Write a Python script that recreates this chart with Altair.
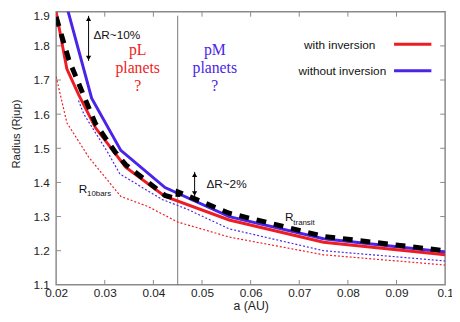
import altair as alt
import pandas as pd

# ---------------- data ----------------
x_ticks = [0.02, 0.03, 0.04, 0.05, 0.06, 0.07, 0.08, 0.09, 0.1]
y_ticks = [1.1, 1.2, 1.3, 1.4, 1.5, 1.6, 1.7, 1.8, 1.9]

with_a = [0.02, 0.0222, 0.0246, 0.0281, 0.0343, 0.0424, 0.0556, 0.075, 0.1]
with_r = [1.90, 1.733, 1.658, 1.56, 1.445, 1.359, 1.29, 1.225, 1.188]

without_a = [0.02, 0.0273, 0.0333, 0.0424, 0.0556, 0.075, 0.1]
without_r = [2.03, 1.647, 1.494, 1.385, 1.30, 1.235, 1.196]

transit_a = [0.02, 0.0226, 0.0253, 0.0281, 0.0321, 0.0343, 0.0424, 0.045, 0.0451, 0.0556, 0.075, 0.1]
transit_r = [1.885, 1.76, 1.667, 1.572, 1.49, 1.452, 1.362, 1.352, 1.372, 1.31, 1.242, 1.20]

bdot_a = [0.0246, 0.0257, 0.0307, 0.0331, 0.0418, 0.0469, 0.0556, 0.075, 0.1]
bdot_r = [1.64, 1.60, 1.486, 1.425, 1.35, 1.322, 1.264, 1.20, 1.17]

rdot_a = [0.02, 0.0222, 0.0267, 0.0333, 0.0388, 0.045, 0.0556, 0.075, 0.1]
rdot_r = [1.71, 1.575, 1.474, 1.359, 1.33, 1.284, 1.24, 1.188, 1.158]

split_a = 0.045

legend_labels = ["with inversion", "without inversion"]

RED = "#ee1d23"
BLUE = "#4a24e8"
FRAME = "#8a8a8a"
FONT = "Liberation Sans"

W, H = 396, 278

xs = alt.Scale(domain=[0.02, 0.1], nice=False, zero=False)
ys = alt.Scale(domain=[1.1, 1.9], nice=False, zero=False)

x_axis = alt.Axis(values=x_ticks, labelExpr="format(datum.value, '.2~f')",
                  ticks=False, grid=False, domain=False, labelFontSize=12,
                  labelFont=FONT, labelColor="#222", labelPadding=3,
                  labelFlush=False, title="a (AU)", titleFont=FONT,
                  titleFontSize=12.5, titleFontWeight="normal", titleColor="#222",
                  titleBaseline="middle", titleY=21)
y_axis = alt.Axis(values=y_ticks, format=".1f", ticks=False, grid=False,
                  domain=False, labelFontSize=12, labelFont=FONT,
                  labelColor="#222", labelPadding=7, labelFlush=False,
                  labelOffset={"condition": {"test": "datum.value >= 1.85", "value": 4},
                               "value": 0},
                  title="Radius (Rjup)", titleFont=FONT, titleFontSize=11.5,
                  titleFontWeight="normal", titleColor="#222",
                  titleBaseline="middle", titleX=-40, titleY=124)


def X(field="a"):
    return alt.X(f"{field}:Q", scale=xs, axis=x_axis)


def Y(field="r"):
    return alt.Y(f"{field}:Q", scale=ys, axis=y_axis)


def curve(a, r, color, width, dash=None):
    kw = dict(color=color, strokeWidth=width, clip=True)
    if dash:
        kw["strokeDash"] = dash
    return alt.Chart(pd.DataFrame({"a": a, "r": r})).mark_line(**kw).encode(
        x=X(), y=Y())


layers = []

# inward ticks on all four sides
xt = pd.DataFrame({"a": x_ticks[1:-1]})
yt = pd.DataFrame({"r": y_ticks[1:-1]})
layers.append(alt.Chart(xt).mark_rule(color=FRAME, strokeWidth=1).encode(
    x=X(), y=alt.value(H), y2=alt.value(H - 5)))
layers.append(alt.Chart(xt).mark_rule(color=FRAME, strokeWidth=1).encode(
    x=X(), y=alt.value(0), y2=alt.value(5)))
layers.append(alt.Chart(yt).mark_rule(color=FRAME, strokeWidth=1).encode(
    y=Y(), x=alt.value(0), x2=alt.value(5)))
layers.append(alt.Chart(yt).mark_rule(color=FRAME, strokeWidth=1).encode(
    y=Y(), x=alt.value(W), x2=alt.value(W - 5)))

# vertical separator
layers.append(alt.Chart(pd.DataFrame({"a": [split_a]})).mark_rule(
    color="#777", strokeWidth=1).encode(x=X(), y=alt.value(4), y2=alt.value(H)))

# curves
layers.append(curve(rdot_a, rdot_r, RED, 1.2, [2, 2]))
layers.append(curve(bdot_a, bdot_r, BLUE, 1.2, [2, 2]))
layers.append(curve(without_a, without_r, BLUE, 3))
layers.append(curve(with_a, with_r, RED, 3))
layers.append(curve(transit_a, transit_r, "black", 5, [10, 8]))

# arrows
arrows = pd.DataFrame({"a": [0.02667, 0.04848], "r1": [1.888, 1.431],
                       "r2": [1.756, 1.359]})
layers.append(alt.Chart(arrows).mark_rule(color="black", strokeWidth=1).encode(
    x=X(), y=Y("r1"), y2="r2:Q"))
layers.append(alt.Chart(arrows).mark_point(shape="triangle-up", filled=True,
                                           color="black", size=28, opacity=1,
                                           yOffset=3).encode(x=X(), y=Y("r1")))
layers.append(alt.Chart(arrows).mark_point(shape="triangle-down", filled=True,
                                           color="black", size=28, opacity=1,
                                           yOffset=-3).encode(x=X(), y=Y("r2")))

# annotations
notes = pd.DataFrame({"a": [0.02768, 0.0509], "r": [1.831, 1.396],
                      "t": ["ΔR~10%", "ΔR~2%"]})
layers.append(alt.Chart(notes).mark_text(align="left", baseline="middle",
                                         font=FONT, fontSize=12, color="#111").encode(
    x=X(), y=Y(), text="t:N"))

planets = pd.DataFrame({"a": [0.03677, 0.05263], "r": [1.773, 1.773],
                        "t": ["pL\nplanets\n?", "pM\nplanets\n?"],
                        "c": [RED, BLUE]})
layers.append(alt.Chart(planets).mark_text(align="center", baseline="alphabetic",
                                           font="Liberation Serif", fontSize=16,
                                           lineBreak="\n", lineHeight=18.5).encode(
    x=X(), y=Y(), text="t:N", color=alt.Color("c:N", scale=None)))

rlab = pd.DataFrame({"a": [0.02465, 0.06707], "r": [1.3705, 1.287],
                     "t": ["R", "R"], "s": ["10bars", "transit"]})
layers.append(alt.Chart(rlab).mark_text(align="left", baseline="alphabetic",
                                        font=FONT, fontSize=12, color="#111").encode(
    x=X(), y=Y(), text="t:N"))
layers.append(alt.Chart(rlab).mark_text(align="left", baseline="alphabetic",
                                        font=FONT, fontSize=8, color="#111",
                                        dx=8.5, dy=4).encode(
    x=X(), y=Y(), text="s:N"))

# legend (gnuplot style: text then sample)
layers.append(alt.Chart(pd.DataFrame({"t": [legend_labels[0]]})).mark_text(
    align="right", baseline="middle", font=FONT, fontSize=12, color="#111").encode(
    x=alt.value(325), y=alt.value(34), text="t:N"))
layers.append(alt.Chart(pd.DataFrame({"t": [legend_labels[1]]})).mark_text(
    align="right", baseline="middle", font=FONT, fontSize=12, color="#111").encode(
    x=alt.value(336), y=alt.value(60), text="t:N"))
layers.append(alt.Chart(pd.DataFrame({"t": [legend_labels[0]]})).mark_rule(
    color=RED, strokeWidth=3).encode(x=alt.value(344), x2=alt.value(382),
                                     y=alt.value(33)))
layers.append(alt.Chart(pd.DataFrame({"t": [legend_labels[1]]})).mark_rule(
    color=BLUE, strokeWidth=3).encode(x=alt.value(344), x2=alt.value(382),
                                      y=alt.value(60)))

chart = alt.layer(*layers).properties(
    width=W, height=H,
    autosize=alt.AutoSizeParams(type="none"),
    padding={"left": 49, "top": 1, "right": 7, "bottom": 35},
    background="white",
).configure_view(stroke=FRAME, strokeWidth=1.5)

chart.save("out.html", embed_options={"renderer": "svg", "actions": False})
